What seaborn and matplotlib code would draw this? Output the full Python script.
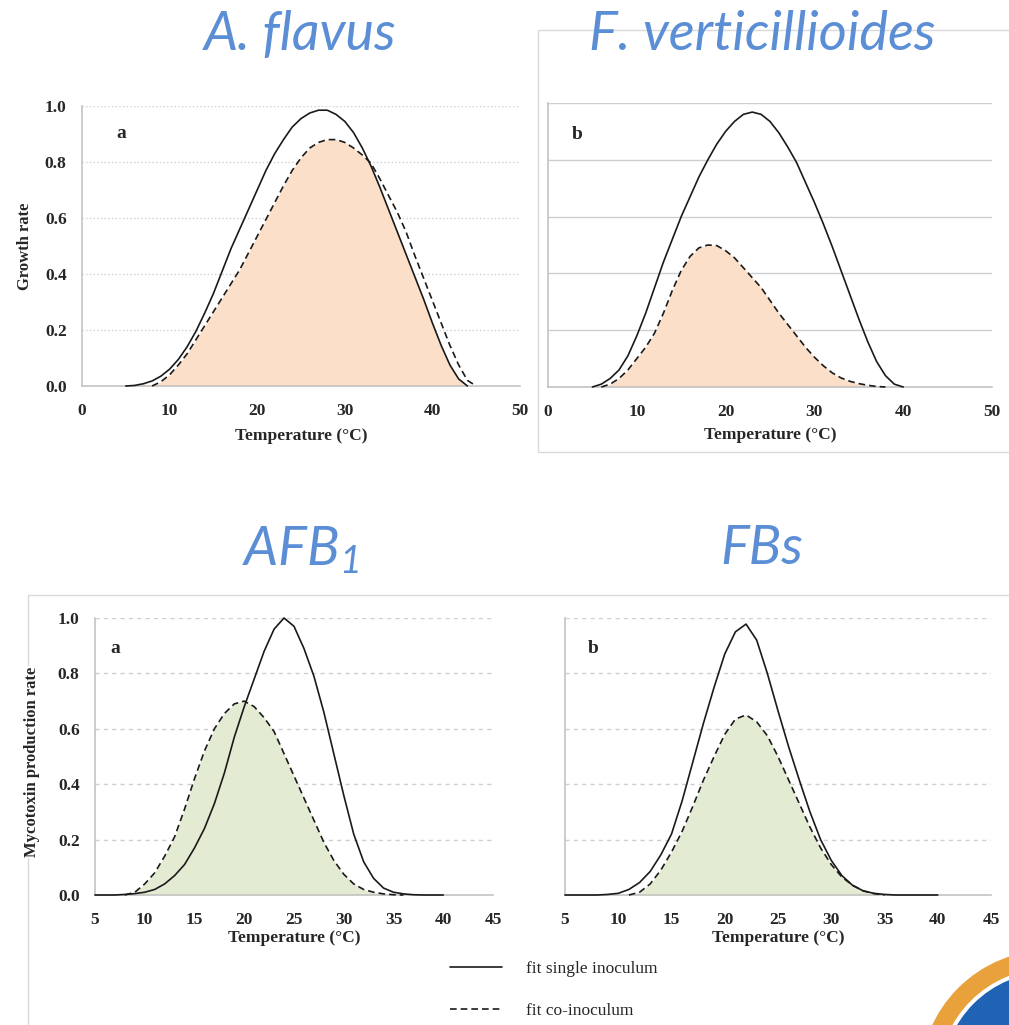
import numpy as np
import pandas as pd
import matplotlib.pyplot as plt
from matplotlib.lines import Line2D
from matplotlib.patches import Rectangle, Ellipse
import seaborn as sns

nan = np.nan

# =============================================================================
# DATOS
# =============================================================================
# A. flavus, tasa de crecimiento
temp_flavus = np.arange(5, 46)
flavus_single = [0.0, 0.002, 0.008, 0.018, 0.035,
                 0.06, 0.095, 0.14, 0.195, 0.26,
                 0.33, 0.41, 0.49, 0.56, 0.63,
                 0.70, 0.77, 0.83, 0.88, 0.925,
                 0.955, 0.975, 0.985, 0.985, 0.97,
                 0.945, 0.905, 0.85, 0.785, 0.71,
                 0.63, 0.55, 0.47, 0.39, 0.31,
                 0.225, 0.145, 0.075, 0.025, 0.0,
                 nan]
flavus_co = [nan, nan, nan, 0.0, 0.015,
             0.04, 0.075, 0.115, 0.165, 0.215,
             0.265, 0.315, 0.365, 0.415, 0.475,
             0.535, 0.595, 0.655, 0.715, 0.77,
             0.815, 0.85, 0.87, 0.88, 0.88,
             0.87, 0.85, 0.825, 0.795, 0.74,
             0.68, 0.62, 0.55, 0.465, 0.385,
             0.305, 0.225, 0.145, 0.075, 0.02,
             0.0]

# F. verticillioides, tasa de crecimiento
temp_fv = np.arange(5, 41)
fv_single = [0.0, 0.01, 0.03, 0.06, 0.11,
             0.18, 0.26, 0.35, 0.44, 0.52,
             0.60, 0.67, 0.74, 0.80, 0.855,
             0.90, 0.935, 0.96, 0.968, 0.96,
             0.935, 0.895, 0.845, 0.79, 0.72,
             0.65, 0.575, 0.495, 0.41, 0.325,
             0.24, 0.16, 0.09, 0.04, 0.01,
             0.0]
fv_co = [nan, 0.0, 0.01, 0.03, 0.06,
         0.10, 0.14, 0.19, 0.26, 0.34,
         0.41, 0.46, 0.49, 0.50, 0.498,
         0.48, 0.455, 0.42, 0.385, 0.35,
         0.305, 0.26, 0.22, 0.18, 0.14,
         0.105, 0.075, 0.05, 0.032, 0.02,
         0.012, 0.006, 0.002, 0.0, nan,
         nan]

# AFB1, tasa de produccion
temp_afb = np.arange(5, 41)
afb_single = [0.0, 0.0, 0.0, 0.002, 0.005,
              0.01, 0.02, 0.04, 0.07, 0.11,
              0.17, 0.24, 0.33, 0.44, 0.57,
              0.68, 0.78, 0.88, 0.96, 1.0,
              0.97, 0.89, 0.79, 0.66, 0.51,
              0.36, 0.22, 0.12, 0.06, 0.025,
              0.01, 0.004, 0.001, 0.0, 0.0,
              0.0]
afb_co = [nan, nan, nan, 0.0, 0.01,
          0.04, 0.08, 0.14, 0.21, 0.31,
          0.42, 0.52, 0.60, 0.655, 0.69,
          0.70, 0.68, 0.64, 0.59, 0.51,
          0.43, 0.35, 0.27, 0.19, 0.125,
          0.075, 0.04, 0.02, 0.01, 0.004,
          0.001, 0.0, nan, nan, nan,
          nan]

# FBs, tasa de produccion
temp_fbs = np.arange(5, 41)
fbs_single = [0.0, 0.0, 0.0, 0.0, 0.002,
              0.006, 0.02, 0.045, 0.085, 0.145,
              0.22, 0.34, 0.48, 0.62, 0.75,
              0.87, 0.95, 0.978, 0.92, 0.80,
              0.665, 0.535, 0.415, 0.30, 0.20,
              0.125, 0.07, 0.035, 0.015, 0.006,
              0.002, 0.0, 0.0, 0.0, 0.0,
              0.0]
fbs_co = [nan, nan, nan, nan, nan,
          nan, 0.0, 0.01, 0.04, 0.09,
          0.155, 0.23, 0.32, 0.415, 0.50,
          0.58, 0.635, 0.65, 0.625, 0.575,
          0.50, 0.415, 0.33, 0.245, 0.17,
          0.11, 0.065, 0.035, 0.015, 0.005,
          0.0, nan, nan, nan, nan,
          nan]

etiquetas = ['fit single inoculum', 'fit co-inoculum']
color_naranja = '#FCDFC8'
color_verde = '#E3EBD3'
color_titulo = '#5B8ED5'
gris = '#C4C4C4'
trazo = (4.0, 2.4)

# =============================================================================
# ESTILO
# =============================================================================
sns.set_theme(style='white')
plt.rcParams['font.family'] = ['Liberation Serif', 'DejaVu Serif']
plt.rcParams['mathtext.fontset'] = 'custom'
plt.rcParams['mathtext.it'] = 'Lato:italic'
plt.rcParams['mathtext.rm'] = 'Lato:italic'


def tabla_larga(temp, single, co):
    """Arma un dataframe largo con las dos curvas del panel."""
    df1 = pd.DataFrame({'T': temp, 'tasa': single, 'fit': etiquetas[0]})
    df2 = pd.DataFrame({'T': temp, 'tasa': co, 'fit': etiquetas[1]})
    return pd.concat([df1, df2]).dropna()


def panel(fig, pos, temp, single, co, color, xlim, xticks, letra, grid_ls,
          ylabel=None, fill_min=False):
    ax = fig.add_axes(pos)
    # relleno bajo la curva co-inoculo
    relleno = np.nan_to_num(np.array(co, dtype=float))
    if fill_min:
        relleno = np.fmin(np.array(single, dtype=float), np.array(co, dtype=float))
        relleno = np.nan_to_num(relleno)
    ax.fill_between(temp, 0, relleno, color=color, lw=0, zorder=1)

    df = tabla_larga(temp, single, co)
    sns.lineplot(data=df, x='T', y='tasa', style='fit', ax=ax,
                 dashes={etiquetas[0]: '', etiquetas[1]: trazo},
                 color='#1a1a1a', lw=1.2, legend=False, zorder=3,
                 clip_on=False)

    ax.set_xlim(*xlim)
    ax.set_ylim(0, 1.0)
    ax.set_xticks(xticks)
    ax.set_yticks([0.0, 0.2, 0.4, 0.6, 0.8, 1.0])
    ax.yaxis.grid(True, color='#CFCFCF', linestyle=grid_ls, lw=1.0, zorder=0)
    ax.xaxis.grid(False)
    ax.set_axisbelow(True)
    for s in ['top', 'right']:
        ax.spines[s].set_visible(False)
    for s in ['left', 'bottom']:
        ax.spines[s].set_color(gris)
        ax.spines[s].set_linewidth(1.2)
    ax.tick_params(axis='both', length=0, labelsize=12.5)
    ax.tick_params(axis='x', pad=12)
    ax.tick_params(axis='y', pad=11)
    for lab in ax.get_xticklabels() + ax.get_yticklabels():
        lab.set_fontweight('bold')
    if ylabel is None:
        ax.set_yticklabels([])
        ax.set_ylabel('')
    else:
        ax.set_yticklabels([f'{v:.1f}' for v in ax.get_yticks()])
        for lab in ax.get_yticklabels():
            lab.set_fontweight('bold')
        ax.set_ylabel(ylabel, fontsize=12, fontweight='bold',
                      bbox=dict(facecolor='white', edgecolor='none', pad=1))
    ax.set_xlabel('Temperature (°C)', fontsize=12.5, fontweight='bold')
    ax.text(letra[0], letra[1], letra[2], fontsize=14, fontweight='bold',
            ha='left', va='center')
    return ax


fig = plt.figure(figsize=(10.09, 10.25), dpi=100)

# marcos grises de las figuras originales
fig.add_artist(Rectangle((538 / 1009, 1 - 452 / 1025), 0.5, 422 / 1025,
                         transform=fig.transFigure, fill=False,
                         ec='#DADADA', lw=1.0, zorder=0))
fig.add_artist(Rectangle((28 / 1009, -0.02), 1.0, 1 - 595 / 1025 + 0.02,
                         transform=fig.transFigure, fill=False,
                         ec='#DADADA', lw=1.0, zorder=0))

ax1 = panel(fig, [82 / 1009, 1 - 386 / 1025, 438 / 1009, 280 / 1025],
            temp_flavus, flavus_single, flavus_co, color_naranja,
            (0, 50), range(0, 51, 10), (3.9, 0.9, 'a'), ':',
            ylabel='Growth rate', fill_min=True)
ax1.xaxis.labelpad = 7
ax1.yaxis.set_label_coords(-0.112, 0.5)

ax2 = panel(fig, [548 / 1009, 1 - 387 / 1025, 444 / 1009, 284 / 1025],
            temp_fv, fv_single, fv_co, color_naranja,
            (0, 50), range(0, 51, 10), (2.7, 0.89, 'b'), '-')
ax2.xaxis.labelpad = 5

ax3 = panel(fig, [95 / 1009, 1 - 895 / 1025, 398 / 1009, 277 / 1025],
            temp_afb, afb_single, afb_co, color_verde,
            (5, 45), range(5, 46, 5), (6.5, 0.89, 'a'), (0, (3, 3)),
            ylabel='Mycotoxin production rate')
ax3.xaxis.labelpad = 2
ax3.yaxis.set_label_coords(-0.138, 0.48)

ax4 = panel(fig, [565 / 1009, 1 - 895 / 1025, 426 / 1009, 277 / 1025],
            temp_fbs, fbs_single, fbs_co, color_verde,
            (5, 45), range(5, 46, 5), (7.1, 0.89, 'b'), (0, (3, 3)))
ax4.xaxis.labelpad = 2

# titulos
titulo_kw = dict(fontsize=39, color=color_titulo, ha='center', va='center',
                 family='Lato', style='italic')
fig.text(300 / 1009, 1 - 35 / 1025, 'A. flavus', **titulo_kw)
fig.text(762 / 1009, 1 - 35 / 1025, 'F. verticillioides', **titulo_kw)
fig.text(300 / 1009, 1 - 550 / 1025, r'$AFB_1$', **titulo_kw)
fig.text(762 / 1009, 1 - 548 / 1025, 'FBs', **titulo_kw)

# leyenda
handles = [Line2D([], [], color='#1a1a1a', lw=1.2),
           Line2D([], [], color='#1a1a1a', lw=1.2, dashes=trazo)]
fig.legend(handles, etiquetas, loc='center left',
           bbox_to_anchor=(434 / 1009, 1 - 990 / 1025), frameon=False,
           fontsize=12.5, handlelength=3.0, handletextpad=1.4,
           labelspacing=1.5)

# logo cortado en la esquina
fig.add_artist(Ellipse((1050 / 1009, 1 - 1080 / 1025), 260 / 1009, 260 / 1025,
                       transform=fig.transFigure, color='#E9A23B', lw=0))
fig.add_artist(Ellipse((1050 / 1009, 1 - 1080 / 1025), 224 / 1009, 224 / 1025,
                       transform=fig.transFigure, color='white', lw=0))
fig.add_artist(Ellipse((1050 / 1009, 1 - 1080 / 1025), 216 / 1009, 216 / 1025,
                       transform=fig.transFigure, color='#2063B5', lw=0))

fig.savefig('out.png', dpi=100)
